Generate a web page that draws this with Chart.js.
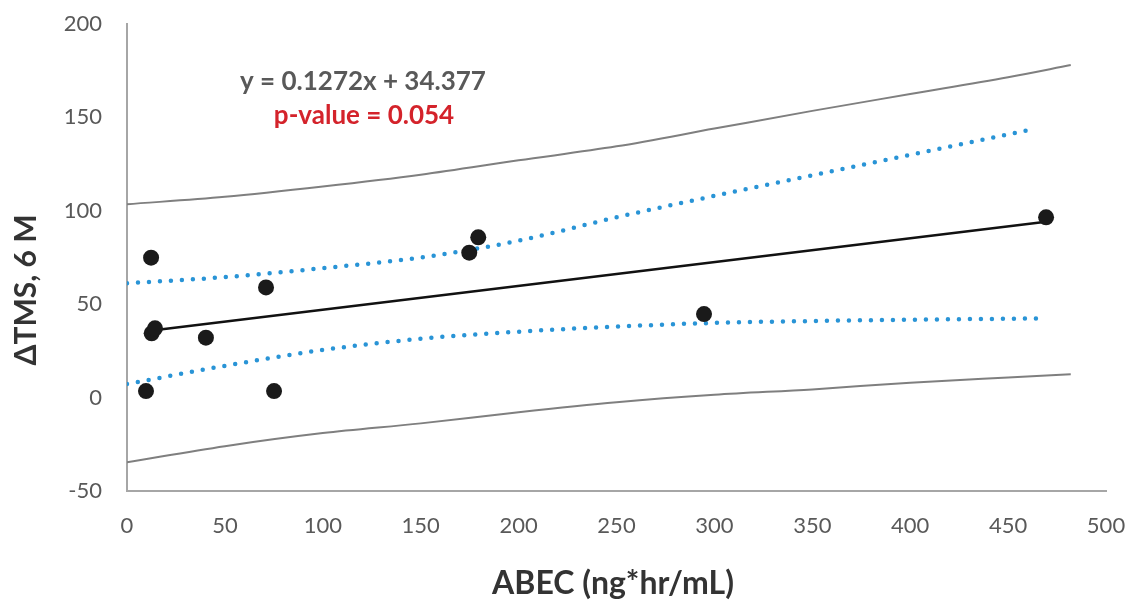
<!DOCTYPE html>
<html>
<head>
<meta charset="utf-8">
<script src="https://cdn.jsdelivr.net/npm/chart.js@4.4.1/dist/chart.umd.min.js"></script>
<style>
  html, body { margin: 0; padding: 0; background: #ffffff; }
  #wrap { width: 1135px; height: 601px; position: relative; }
</style>
</head>
<body>
<div id="wrap"><canvas id="c" width="1135" height="601"></canvas></div>
<script>
// ---- data ----
const pointX = [9.7, 12.3, 12.6, 14.3, 40.3, 71.0, 75.1, 174.8, 179.4, 294.7, 469.4];
const pointY = [3.5, 74.9, 34.4, 37.1, 32.1, 59.0, 3.5, 77.6, 85.8, 44.7, 96.5];

const trendX = [13.8, 469.4];
const trendY = [36.1, 94.1];

const confUpperX = [0, 50, 100, 150, 200, 250, 300, 350, 400, 461];
const confUpperY = [61.2, 64.5, 69.3, 75.0, 84.0, 96.5, 108.0, 119.0, 130.0, 143.3];
const confLowerX = [0, 50, 100, 150, 200, 250, 300, 350, 400, 468];
const confLowerY = [7.3, 17.0, 25.5, 31.5, 35.3, 38.0, 40.0, 41.0, 41.7, 42.4];

const predUpperX = [0, 50, 100, 150, 200, 250, 300, 350, 400, 450, 482];
const predUpperY = [103.5, 107.5, 113.0, 119.3, 127.0, 134.5, 144.0, 153.5, 162.5, 171.5, 178.0];
const predLowerX = [0, 50, 100, 150, 200, 250, 300, 350, 400, 450, 482];
const predLowerY = [-34.6, -26.0, -19.0, -13.8, -7.8, -2.5, 1.5, 4.4, 8.0, 10.8, 12.5];

const xTicks = [0, 50, 100, 150, 200, 250, 300, 350, 400, 450, 500];
const yTicks = [-50, 0, 50, 100, 150, 200];

const xTitle = 'ABEC (ng*hr/mL)';
const yTitle = 'ΔTMS, 6 M';
const eqText = 'y = 0.1272x + 34.377';
const pText = 'p-value = 0.054';

// ---- helpers ----
const pairs = (xs, ys) => xs.map((x, i) => ({ x: x, y: ys[i] }));

const FONT = 'Lato, "Open Sans", "Liberation Sans", sans-serif';

const resetPadding = (scale) => {
  scale.paddingTop = 0;
  scale.paddingBottom = 0;
  scale.paddingLeft = 0;
  scale.paddingRight = 0;
};

const textPlugin = {
  id: 'texts',
  afterDraw(chart) {
    const ctx = chart.ctx;
    ctx.save();
    // y axis title
    ctx.fillStyle = '#333333';
    ctx.font = 'bold 30px ' + FONT;
    ctx.textAlign = 'center';
    ctx.textBaseline = 'middle';
    ctx.translate(26, 290);
    ctx.rotate(-Math.PI / 2);
    ctx.fillText(yTitle, 0, 0);
    ctx.restore();

    ctx.save();
    ctx.fillStyle = '#333333';
    ctx.font = 'bold 32px ' + FONT;
    ctx.textAlign = 'center';
    ctx.textBaseline = 'middle';
    ctx.fillText(xTitle, 613, 584);

    // annotation
    ctx.font = 'bold 26px ' + FONT;
    ctx.fillStyle = '#595959';
    ctx.fillText(eqText, 363, 82);
    ctx.fillStyle = '#d4232b';
    ctx.fillText(pText, 364, 116);
    ctx.restore();
  }
};

new Chart(document.getElementById('c'), {
  type: 'scatter',
  data: {
    datasets: [
      {
        label: 'data',
        data: pairs(pointX, pointY),
        showLine: false,
        pointRadius: 8,
        pointHoverRadius: 8,
        pointBackgroundColor: '#1a1a1a',
        pointBorderColor: '#1a1a1a',
        pointBorderWidth: 0
      },
      {
        label: 'trend',
        data: pairs(trendX, trendY),
        showLine: true,
        borderColor: '#111111',
        borderWidth: 2.5,
        pointRadius: 0
      },
      {
        label: 'conf upper',
        data: pairs(confUpperX, confUpperY),
        showLine: true,
        borderColor: '#2994d6',
        borderWidth: 4.5,
        borderDash: [0, 11],
        borderCapStyle: 'round',
        cubicInterpolationMode: 'monotone',
        pointRadius: 0
      },
      {
        label: 'conf lower',
        data: pairs(confLowerX, confLowerY),
        showLine: true,
        borderColor: '#2994d6',
        borderWidth: 4.5,
        borderDash: [0, 11],
        borderCapStyle: 'round',
        cubicInterpolationMode: 'monotone',
        pointRadius: 0
      },
      {
        label: 'pred upper',
        data: pairs(predUpperX, predUpperY),
        showLine: true,
        borderColor: '#7f7f7f',
        borderWidth: 2,
        cubicInterpolationMode: 'monotone',
        pointRadius: 0
      },
      {
        label: 'pred lower',
        data: pairs(predLowerX, predLowerY),
        showLine: true,
        borderColor: '#7f7f7f',
        borderWidth: 2,
        cubicInterpolationMode: 'monotone',
        pointRadius: 0
      }
    ]
  },
  options: {
    responsive: false,
    animation: false,
    devicePixelRatio: 1,
    layout: { autoPadding: false, padding: { left: 0, top: 24, right: 29, bottom: 0 } },
    plugins: {
      legend: { display: false },
      tooltip: { enabled: false },
      title: { display: false }
    },
    scales: {
      x: {
        type: 'linear',
        min: xTicks[0],
        max: xTicks[xTicks.length - 1],
        afterBuildTicks(scale) { scale.ticks = xTicks.map(v => ({ value: v })); },
        afterFit(scale) { scale.height = 110; resetPadding(scale); },
        grid: { display: false, drawTicks: false },
        border: { display: true, color: '#a6a6a6', width: 2 },
        ticks: {
          padding: 22,
          color: '#595959',
          font: { family: FONT, size: 22 }
        }
      },
      y: {
        type: 'linear',
        min: yTicks[0],
        max: yTicks[yTicks.length - 1],
        afterBuildTicks(scale) { scale.ticks = yTicks.map(v => ({ value: v })); },
        afterFit(scale) { scale.width = 127; resetPadding(scale); },
        grid: { display: false, drawTicks: false },
        border: { display: true, color: '#a6a6a6', width: 2 },
        ticks: {
          padding: 25,
          color: '#595959',
          font: { family: FONT, size: 22 }
        }
      }
    }
  },
  plugins: [textPlugin]
});
</script>
</body>
</html>
